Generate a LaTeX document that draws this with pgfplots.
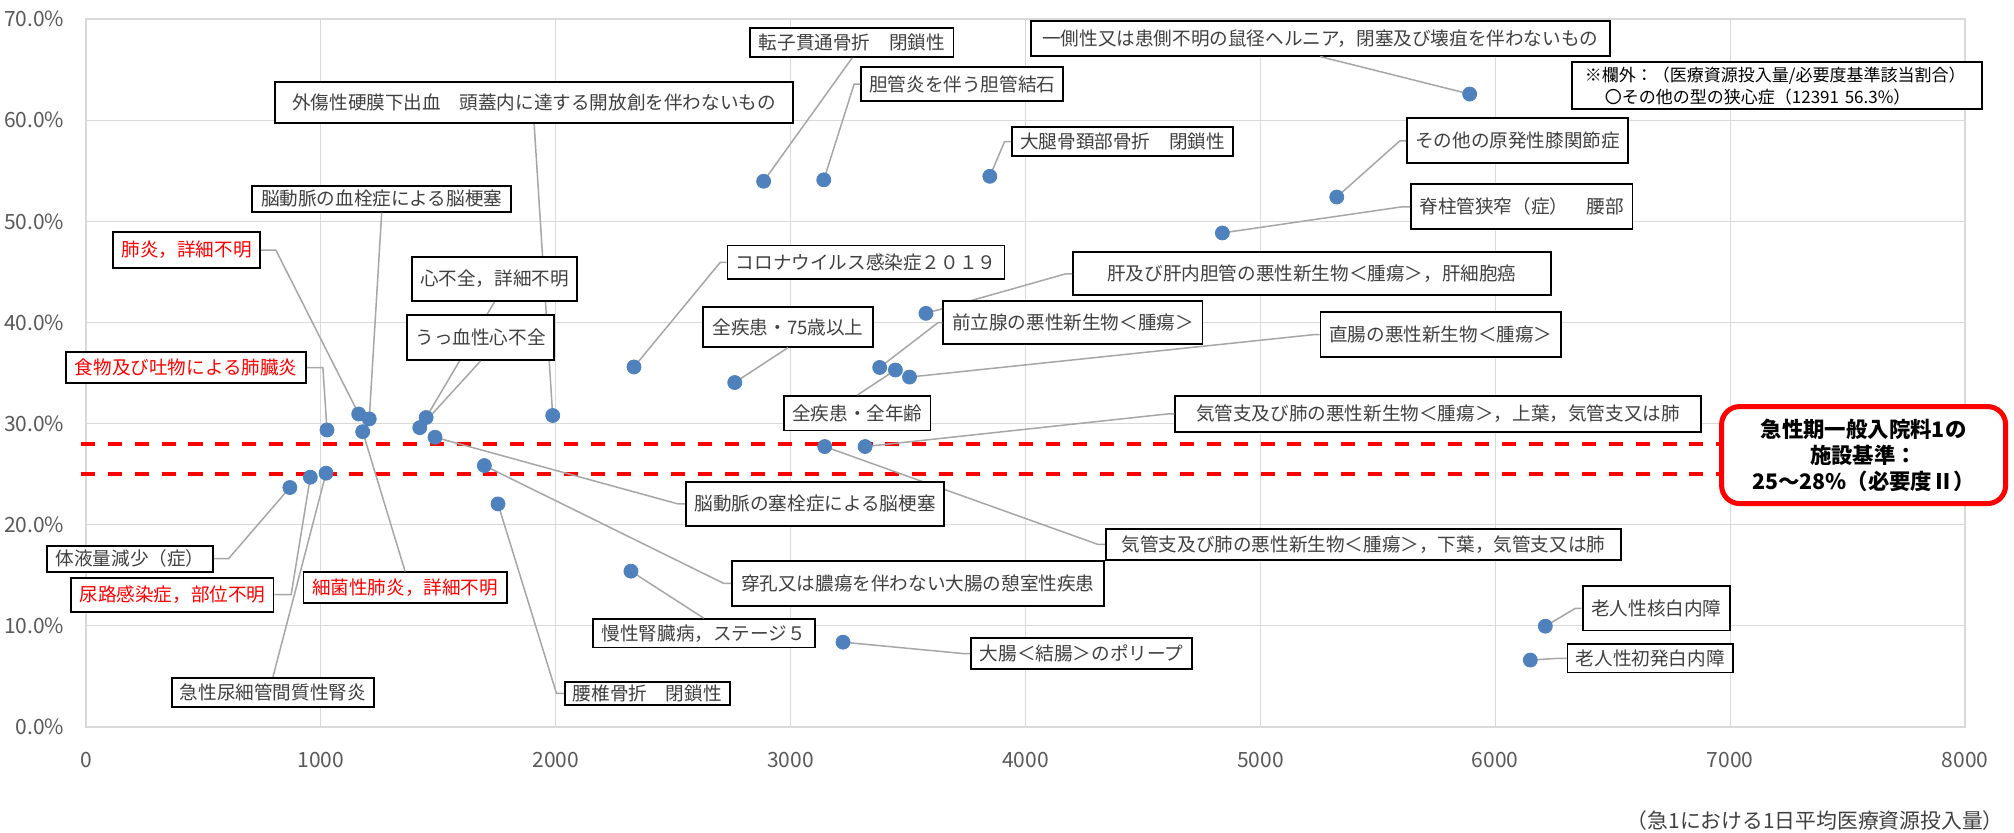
\documentclass[border=0pt]{standalone}
\usepackage{pgfplots}
\pgfplotsset{compat=1.18}
\usepackage{fontspec}
\setmainfont{Noto Sans CJK JP}

\definecolor{gridgray}{RGB}{217,217,217}
\definecolor{ticktext}{RGB}{89,89,89}
\definecolor{lbltext}{RGB}{64,64,64}
\definecolor{leadgray}{RGB}{166,166,166}
\definecolor{ptblue}{RGB}{79,129,189}
\definecolor{alertred}{RGB}{255,0,0}

% 1日平均医療資源投入量 / 必要度基準該当割合(%)
\pgfplotstableread{
x y
5891 62.58
2885 53.96
3141 54.10
3848 54.45
5325 52.40
4838 48.85
2333 35.60
2762 34.06
3576 40.90
3379 35.55
3446 35.30
3506 34.60
3317 27.73
3145 27.73
3223 8.39
2320 15.41
1696 25.85
1486 28.65
1754 22.06
1987 30.80
1448 30.60
1421 29.60
1206 30.46
1161 30.95
1178 29.20
1026 29.37
868 23.68
955 24.70
1022 25.10
6213 9.97
6149 6.62
}\pts

\begin{document}
\begin{tikzpicture}[
  lbl/.style={draw=black, line width=0.9pt, fill=white, inner sep=0pt,
    text=lbltext, font=\fontsize{9.3}{11}\selectfont},
  redlbl/.style={lbl, text=alertred},
  lead/.style={draw=leadgray, line width=0.75pt},
]
\begin{axis}[
  scale only axis,
  width=939.5pt, height=354pt,
  xmin=0, xmax=8000, ymin=0, ymax=70,
  xtick={0,1000,...,8000},
  xticklabels={0,1000,2000,3000,4000,5000,6000,7000,8000},
  ytick={0,10,...,70},
  yticklabels={0.0\%,10.0\%,20.0\%,30.0\%,40.0\%,50.0\%,60.0\%,70.0\%},
  grid=major,
  grid style={gridgray, line width=0.6pt},
  axis line style={gridgray, line width=0.6pt},
  major tick length=0pt,
  tick label style={font=\fontsize{10.5}{12}\selectfont, text=ticktext, inner sep=0pt},
  xticklabel style={yshift=-12.2pt},
  yticklabel style={xshift=-10.7pt},
  clip=false,
]
\path (axis cs:-366.1,71.88) rectangle (axis cs:8208.4,-10.38);

% 施設基準の範囲
\addplot[alertred, line width=2pt, dash pattern=on 7pt off 6.4pt, forget plot]
  coordinates {(-20,28) (7700,28)};
\addplot[alertred, line width=2pt, dash pattern=on 7pt off 6.4pt, forget plot]
  coordinates {(-20,25) (7700,25)};

\addplot[only marks, mark=*, mark size=3.5pt, draw=ptblue, fill=ptblue] table {\pts};

% labels, drawn so that boxes hide the leaders passing behind them
\node[lbl, minimum width=258.8pt, minimum height=20.8pt] (a1) at (axis cs:1908,61.75) {外傷性硬膜下出血　頭蓋内に達する開放創を伴わないもの};
\draw[lead] (a1.south) -- (axis cs:1987,30.80);
\node[lbl, minimum width=82.8pt, minimum height=22.2pt] (a2) at (axis cs:1739,44.31) {心不全，詳細不明};
\draw[lead] (a2.south) -- (axis cs:1448,30.60);
\node[lbl, minimum width=73.5pt, minimum height=22.5pt] (a3) at (axis cs:1680,38.51) {うっ血性心不全};
\draw[lead] (a3.south) -- (axis cs:1421,29.60);

\node[lbl, minimum width=238.8pt, minimum height=21.5pt] (b1) at (axis cs:5219,44.81) {肝及び肝内胆管の悪性新生物＜腫瘍＞，肝細胞癌};
\draw[lead] (b1.west) -- ++(-5.5pt,0) -- (axis cs:3576,40.90);
\node[lbl, minimum width=120.3pt, minimum height=22.3pt] (b2) at (axis cs:5768,38.79) {直腸の悪性新生物＜腫瘍＞};
\draw[lead] (b2.west) -- ++(-5.5pt,0) -- (axis cs:3506,34.60);
\node[lbl, minimum width=129.6pt, minimum height=21.8pt] (b3) at (axis cs:4202,39.99) {前立腺の悪性新生物＜腫瘍＞};
\draw[lead] (b3.west) -- ++(-4.5pt,0) -- (axis cs:3379,35.55);
\node[lbl, minimum width=73.2pt, minimum height=17.3pt] (b4) at (axis cs:3284,31.02) {全疾患・全年齢};
\draw[lead] (b4.north) -- (axis cs:3446,35.30);

\node[lbl, minimum width=129.5pt, minimum height=13pt] (c1) at (axis cs:1259,52.24) {脳動脈の血栓症による脳梗塞};
\draw[lead] (c1.south) -- (axis cs:1206,30.46);
\node[redlbl, minimum width=73.7pt, minimum height=18.3pt] (c2) at (axis cs:428,47.16) {肺炎，詳細不明};
\draw[lead] (c2.east) -- ++(5pt,0) -- (axis cs:1161,30.95);
\node[redlbl, minimum width=120.1pt, minimum height=15.8pt] (c3) at (axis cs:426.6,35.54) {食物及び吐物による肺臓炎};
\draw[lead] (c3.east) -- ++(5.5pt,0) -- (axis cs:1026,29.37);

\node[lbl, minimum width=101.6pt, minimum height=14.5pt] (d1) at (axis cs:3261,67.65) {転子貫通骨折　閉鎖性};
\draw[lead] (d1.south) -- (axis cs:2885,53.96);
\node[lbl, minimum width=101pt, minimum height=16.8pt] (d2) at (axis cs:3731,63.56) {胆管炎を伴う胆管結石};
\draw[lead] (d2.west) -- ++(-5.5pt,0) -- (axis cs:3141,54.10);
\node[lbl, minimum width=110.8pt, minimum height=14.3pt] (d3) at (axis cs:4413,57.87) {大腿骨頚部骨折　閉鎖性};
\draw[lead] (d3.west) -- ++(-5.5pt,0) -- (axis cs:3848,54.45);
\node[lbl, minimum width=289.3pt, minimum height=17.5pt] (d4) at (axis cs:5255,68.10) {一側性又は患側不明の鼠径ヘルニア，閉塞及び壊疽を伴わないもの};
\draw[lead] (d4.south) -- (axis cs:5891,62.58);
\node[lbl, minimum width=110.5pt, minimum height=22.5pt] (d5) at (axis cs:6095,57.96) {その他の原発性膝関節症};
\draw[lead] (d5.west) -- ++(-5.5pt,0) -- (axis cs:5325,52.40);
\node[lbl, minimum width=110.7pt, minimum height=22.5pt] (d6) at (axis cs:6113,51.43) {脊柱管狭窄（症）　腰部};
\draw[lead] (d6.west) -- ++(-6.5pt,0) -- (axis cs:4838,48.85);

\node[lbl, minimum width=138.5pt, minimum height=16.7pt] (e1) at (axis cs:3321,45.95) {コロナウイルス感染症２０１９};
\draw[lead] (e1.west) -- ++(-5.5pt,0) -- (axis cs:2333,35.60);
\node[lbl, minimum width=85pt, minimum height=19.7pt] (e2) at (axis cs:2989,39.55) {全疾患・75歳以上};
\draw[lead] (e2.south) -- (axis cs:2762,34.06);

\node[lbl, minimum width=262.6pt, minimum height=18pt] (f1) at (axis cs:5756,30.95) {気管支及び肺の悪性新生物＜腫瘍＞，上葉，気管支又は肺};
\draw[lead] (f1.west) -- ++(-6pt,0) -- (axis cs:3317,27.73);
\node[lbl, minimum width=257.5pt, minimum height=15.3pt] (f2) at (axis cs:5439,18.06) {気管支及び肺の悪性新生物＜腫瘍＞，下葉，気管支又は肺};
\draw[lead] (f2.west) -- ++(-6pt,0) -- (axis cs:3145,27.73);
\node[lbl, minimum width=129.3pt, minimum height=22.2pt] (f3) at (axis cs:3104,22.07) {脳動脈の塞栓症による脳梗塞};
\draw[lead] (f3.west) -- ++(-6pt,0) -- (axis cs:1486,28.65);
\node[lbl, minimum width=186pt, minimum height=22.3pt] (f4) at (axis cs:3541,14.21) {穿孔又は膿瘍を伴わない大腸の憩室性疾患};
\draw[lead] (f4.west) -- ++(-6pt,0) -- (axis cs:1696,25.85);
\node[lbl, minimum width=111pt, minimum height=14.2pt] (f5) at (axis cs:2630,9.27) {慢性腎臓病，ステージ５};
\draw[lead] (f5.north) -- (axis cs:2320,15.41);
\node[lbl, minimum width=110.7pt, minimum height=15.8pt] (f6) at (axis cs:4239,7.27) {大腸＜結腸＞のポリープ};
\draw[lead] (f6.west) -- ++(-6pt,0) -- (axis cs:3223,8.39);
\node[lbl, minimum width=82.7pt, minimum height=11.7pt] (f7) at (axis cs:2390,3.33) {腰椎骨折　閉鎖性};
\draw[lead] (f7.west) -- ++(-6pt,0) -- (axis cs:1754,22.06);

\node[lbl, minimum width=82.8pt, minimum height=13pt] (g1) at (axis cs:187.8,16.64) {体液量減少（症）};
\draw[lead] (g1.east) -- ++(5pt,0) -- (axis cs:868,23.68);
\node[redlbl, minimum width=101.1pt, minimum height=17pt] (g2) at (axis cs:368,13.08) {尿路感染症，部位不明};
\draw[lead] (g2.east) -- ++(6pt,0) -- (axis cs:955,24.70);
\node[redlbl, minimum width=101.6pt, minimum height=15.5pt] (g3) at (axis cs:1358.6,13.76) {細菌性肺炎，詳細不明};
\draw[lead] (g3.north) -- (axis cs:1178,29.20);
\node[lbl, minimum width=101.1pt, minimum height=14.5pt] (g4) at (axis cs:796,3.44) {急性尿細管間質性腎炎};
\draw[lead] (g4.north) -- (axis cs:1022,25.10);

\node[lbl, minimum width=73.8pt, minimum height=22.3pt] (h1) at (axis cs:6686,11.74) {老人性核白内障};
\draw[lead] (h1.west) -- ++(-5.5pt,0) -- (axis cs:6213,9.97);
\node[lbl, minimum width=82.9pt, minimum height=14.2pt] (h2) at (axis cs:6660,6.80) {老人性初発白内障};
\draw[lead] (h2.west) -- ++(-6pt,0) -- (axis cs:6149,6.62);

% notes
\node[draw=black, line width=0.9pt, fill=white, inner xsep=6.5pt, inner ysep=0pt,
  minimum height=23.5pt, text width=192pt, align=left, text=black,
  font=\fontsize{8.5}{11}\selectfont] at (axis cs:7199,63.4)
  {※欄外：（医療資源投入量/必要度基準該当割合）\\\hspace*{10pt}〇その他の型の狭心症（12391 56.3\%）};

\node[draw=alertred, line width=2.5pt, rounded corners=9pt, fill=white,
  minimum width=142pt, minimum height=48.5pt, align=center, text=black,
  font=\bfseries\fontsize{10.7}{13}\selectfont] at (axis cs:7568,26.89)
  {急性期一般入院料1の\\施設基準：\\25～28\%（必要度Ⅱ）};

\node[anchor=east, inner sep=0pt, text=lbltext, font=\fontsize{10.4}{12}\selectfont]
  at (axis cs:8166,-9.29) {（急1における1日平均医療資源投入量）};
\end{axis}
\end{tikzpicture}
\end{document}
